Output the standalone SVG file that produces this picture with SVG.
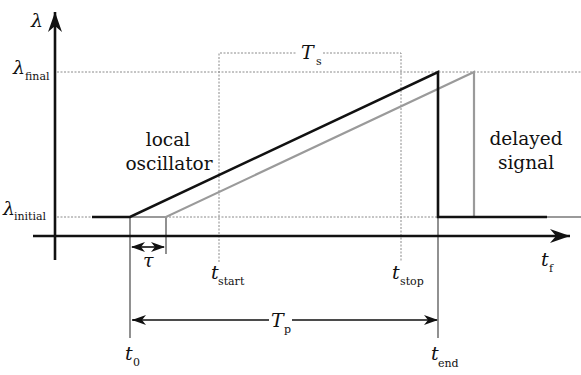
<svg xmlns="http://www.w3.org/2000/svg" width="581" height="375" viewBox="0 0 581 375">
<style>
text{font-family:'DejaVu Serif','Liberation Serif',serif;fill:#111}
.it{font-style:italic}
.big{font-size:19px}
.sub{font-size:11px}
.word{font-size:18.5px;text-anchor:middle}
.dot{fill:none;stroke:#8a8a8a;stroke-width:1;stroke-dasharray:2 1.5}
.guide{fill:none;stroke:#555;stroke-width:1.3}
.axis{fill:none;stroke:#111;stroke-width:2.6}
</style>
<defs>
<marker id="ah" markerUnits="userSpaceOnUse" markerWidth="24" markerHeight="16" refX="20" refY="7" orient="auto" viewBox="0 0 24 16">
<path d="M20,7 L0,0 L6,7 L0,14 Z" fill="#111"/>
</marker>
<marker id="sa" markerUnits="userSpaceOnUse" markerWidth="16" markerHeight="12" refX="13" refY="5" orient="auto-start-reverse" viewBox="0 0 16 12">
<path d="M14,5 L0,0 L4,5 L0,10 Z" fill="#111"/>
</marker>
</defs>
<rect width="581" height="375" fill="#fff"/>
<g id="guides">
<path class="dot" d="M57,72 H581"/>
<path class="dot" d="M57,217 H581"/>
<path class="dot" d="M219,262 V53 H297 M323,53 H401 V262"/>
<path class="guide" d="M130,217 V338"/>
<path class="guide" d="M166,217 V254"/>
<path class="guide" d="M438,217 V338"/>
</g>
<g id="axes">
<path class="axis" d="M55,260 V12" marker-end="url(#ah)"/>
<path class="axis" d="M33,236 H570" marker-end="url(#ah)"/>
</g>
<g id="delayed-signal">
<path d="M130,217 H166 L474,72 V217 H581" fill="none" stroke="#9a9a9a" stroke-width="2.2"/>
</g>
<g id="local-oscillator">
<path d="M92,217 H130 L438,72 V217 H547" fill="none" stroke="#111" stroke-width="2.6"/>
</g>
<g id="connectors">
<path d="M132,247 H164" fill="none" stroke="#111" stroke-width="1.6" marker-start="url(#sa)" marker-end="url(#sa)"/>
<path d="M132,320 H269 M292,320 H436" fill="none" stroke="#111" stroke-width="1.6"/>
<path d="M133,320 H140" fill="none" stroke="#111" stroke-width="1.6" marker-start="url(#sa)"/>
<path d="M428,320 H437" fill="none" stroke="#111" stroke-width="1.6" marker-end="url(#sa)"/>
</g>
<g id="labels">
<text class="it big" x="31" y="27">λ</text>
<text class="it big" x="13" y="74">λ</text><text class="sub" x="25" y="80">final</text>
<text class="it big" x="3" y="215">λ</text><text class="sub" x="14" y="220">initial</text>
<text class="it big" x="301" y="59">T</text><text class="sub" x="316" y="65">s</text>
<text class="it big" x="271" y="327">T</text><text class="sub" x="284" y="333">p</text>
<text class="it big" x="211" y="279">t</text><text class="sub" x="218" y="285">start</text>
<text class="it big" x="392" y="279">t</text><text class="sub" x="400" y="285">stop</text>
<text class="it big" x="125" y="360">t</text><text class="sub" x="133" y="366">0</text>
<text class="it big" x="431" y="360">t</text><text class="sub" x="438" y="367">end</text>
<text class="it big" x="541" y="266">t</text><text class="sub" x="549" y="272">f</text>
<text class="it big" x="143" y="267">τ</text>
<text class="word" x="168" y="146">local</text>
<text class="word" x="169" y="170">oscillator</text>
<text class="word" x="526" y="145">delayed</text>
<text class="word" x="526" y="169">signal</text>
</g>
</svg>
